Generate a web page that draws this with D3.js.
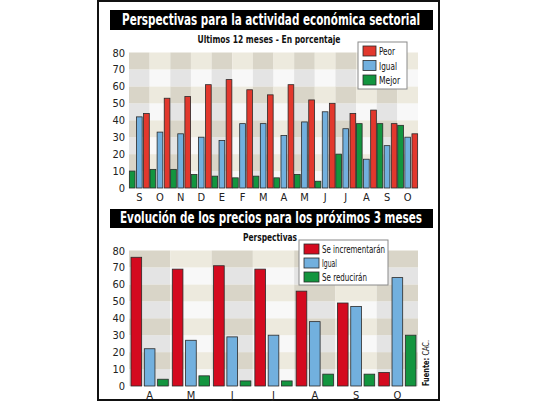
<!DOCTYPE html>
<html>
<head>
<meta charset="utf-8">
<script src="https://cdn.jsdelivr.net/npm/d3@7"></script>
<style>
  body { margin: 0; background: #fff; }
  svg { display: block; }
  .tick text { font-family: "DejaVu Sans Condensed", sans-serif; font-size: 11px; fill: #222; }
  .domain { display: none; }
</style>
</head>
<body>
<div id="chart"></div>
<script>
// data
var months1 = ["S", "O", "N", "D", "E", "F", "M", "A", "M", "J", "J", "A", "S", "O"];
var peor = [44, 53, 54, 61, 64, 58, 55, 61, 52, 50, 44, 46, 38, 32];
var igual = [42, 33, 32, 30, 28, 38, 38, 31, 39, 45, 35, 17, 25, 30];
var mejor = [10, 11, 11, 8, 7, 6, 7, 6, 8, 4, 20, 38, 38, 37];

var months2 = ["A", "M", "J", "J", "A", "S", "O"];
var incrementaran = [76, 69, 71, 69, 56, 49, 8];
var igual2 = [22, 27, 29, 30, 38, 47, 64];
var reduciran = [4, 6, 3, 3, 7, 7, 30];

var yTicks = [0, 10, 20, 30, 40, 50, 60, 70, 80];

var red1 = "#e2382d", red2 = "#d40a1f", blue = "#72b0de", green = "#13953f";

var svg = d3.select("#chart")
  .append("svg")
  .attr("width", 540)
  .attr("height", 405);

// outer frame
svg.append("rect")
  .attr("x", 98).attr("y", 1)
  .attr("width", 341).attr("height", 399)
  .attr("fill", "#fff")
  .attr("stroke", "#111")
  .attr("stroke-width", 2);

function banner(y, h, txt, len) {
  svg.append("rect")
    .attr("x", 110).attr("y", y)
    .attr("width", 323).attr("height", h)
    .attr("fill", "#000");
  svg.append("text")
    .attr("x", 271).attr("y", y + h - 5)
    .attr("text-anchor", "middle")
    .attr("font-family", "DejaVu Sans Condensed, sans-serif")
    .attr("font-weight", "bold")
    .attr("font-size", "15px")
    .attr("fill", "#fff")
    .attr("textLength", len)
    .attr("lengthAdjust", "spacingAndGlyphs")
    .text(txt);
}

function subtitle(x, y, txt, len) {
  svg.append("text")
    .attr("x", x).attr("y", y)
    .attr("text-anchor", "middle")
    .attr("font-family", "DejaVu Sans Condensed, sans-serif")
    .attr("font-weight", "bold")
    .attr("font-size", "10.5px")
    .attr("fill", "#111")
    .attr("textLength", len)
    .attr("lengthAdjust", "spacingAndGlyphs")
    .text(txt);
}

// checkered background + bars + axes for one panel
function panel(opts) {
  var g = svg.append("g");
  var idx = d3.range(opts.labels.length);

  var x0 = d3.scaleBand()
    .domain(idx)
    .range([opts.left, opts.right])
    .padding(0);

  var x1 = d3.scaleBand()
    .domain(d3.range(opts.series.length))
    .range([0, x0.bandwidth()])
    .paddingInner(0.2)
    .paddingOuter(opts.outer);

  var y = d3.scaleLinear()
    .domain([0, 80])
    .range([opts.bottom, opts.top]);

  var cells = [];
  idx.forEach(function(i) {
    d3.range(8).forEach(function(k) {
      cells.push({ i: i, k: k });
    });
  });

  g.selectAll(".cell")
    .data(cells)
    .enter()
    .append("rect")
    .attr("x", d => x0(d.i))
    .attr("y", d => y(d.k * 10 + 10))
    .attr("width", x0.bandwidth())
    .attr("height", d => y(d.k * 10) - y(d.k * 10 + 10))
    .attr("fill", function(d) {
      var beige = d.k % 2 == 1;
      var dark = d.i % 2 == 0;
      if (beige) return dark ? "#d9d5c8" : "#edeade";
      return dark ? "#e4e4e4" : "#f8f8f8";
    });

  opts.series.forEach(function(s, si) {
    g.selectAll(".bar" + si)
      .data(s.values)
      .enter()
      .append("rect")
      .attr("x", (d, i) => x0(i) + x1(si))
      .attr("y", d => y(d))
      .attr("width", x1.bandwidth())
      .attr("height", d => y(0) - y(d))
      .attr("fill", s.color)
      .attr("stroke", "#2a2a2a")
      .attr("stroke-width", 0.8);
  });

  g.append("g")
    .attr("transform", `translate(${opts.left}, 0)`)
    .call(d3.axisLeft(y).tickValues(yTicks).tickSize(0).tickPadding(4));

  g.append("g")
    .attr("transform", `translate(0, ${opts.bottom})`)
    .call(d3.axisBottom(x0).tickSize(0).tickPadding(5).tickFormat(i => opts.labels[i]));

  return g;
}

function legend(x, y, w, h, items, sw, sh, step) {
  var lg = svg.append("g");
  lg.append("rect")
    .attr("x", x).attr("y", y)
    .attr("width", w).attr("height", h)
    .attr("fill", "#fff")
    .attr("stroke", "#8a8a8a")
    .attr("stroke-width", 1);
  items.forEach(function(it, i) {
    lg.append("rect")
      .attr("x", x + 5).attr("y", y + 4 + i * step)
      .attr("width", sw).attr("height", sh)
      .attr("fill", it.color)
      .attr("stroke", "#2a2a2a")
      .attr("stroke-width", 0.8);
    lg.append("text")
      .attr("x", x + 8 + sw).attr("y", y + 4 + i * step + sh - 1)
      .attr("font-family", "DejaVu Sans Condensed, sans-serif")
      .attr("font-size", "10.5px")
      .attr("fill", "#111")
      .attr("textLength", it.len)
      .attr("lengthAdjust", "spacingAndGlyphs")
      .text(it.name);
  });
}

// top panel
banner(10, 20, "Perspectivas para la actividad económica sectorial", 298);
subtitle(269, 43, "Ultimos 12 meses - En porcentaje", 143);

panel({
  labels: months1,
  left: 129, right: 418, top: 52.5, bottom: 188,
  outer: 0.05,
  series: [
    { name: "Mejor", values: mejor, color: green },
    { name: "Igual", values: igual, color: blue },
    { name: "Peor", values: peor, color: red1 }
  ]
});

legend(358, 42, 49, 47, [
  { name: "Peor", color: red1, len: 16 },
  { name: "Igual", color: blue, len: 18 },
  { name: "Mejor", color: green, len: 21 }
], 13, 10, 14.5);

// bottom panel
banner(209, 19, "Evolución de los precios para los próximos 3 meses", 302);
subtitle(270, 241, "Perspectivas", 54);

panel({
  labels: months2,
  left: 129, right: 418, top: 250.5, bottom: 386,
  outer: 0.15,
  series: [
    { name: "Se incrementarán", values: incrementaran, color: red2 },
    { name: "Igual", values: igual2, color: blue },
    { name: "Se reducirán", values: reduciran, color: green }
  ]
});

legend(299, 240, 89, 45, [
  { name: "Se incrementarán", color: red2, len: 63 },
  { name: "Igual", color: blue, len: 15 },
  { name: "Se reducirán", color: green, len: 45 }
], 15, 10, 14);

// source note
var src = svg.append("text")
  .attr("transform", "translate(429, 386) rotate(-90)")
  .attr("font-family", "DejaVu Sans Condensed, sans-serif")
  .attr("font-size", "9.5px")
  .attr("fill", "#111")
  .attr("textLength", 46)
  .attr("lengthAdjust", "spacingAndGlyphs");
src.append("tspan").attr("font-weight", "bold").text("Fuente: ");
src.append("tspan").text("CAC.");
</script>
</body>
</html>
